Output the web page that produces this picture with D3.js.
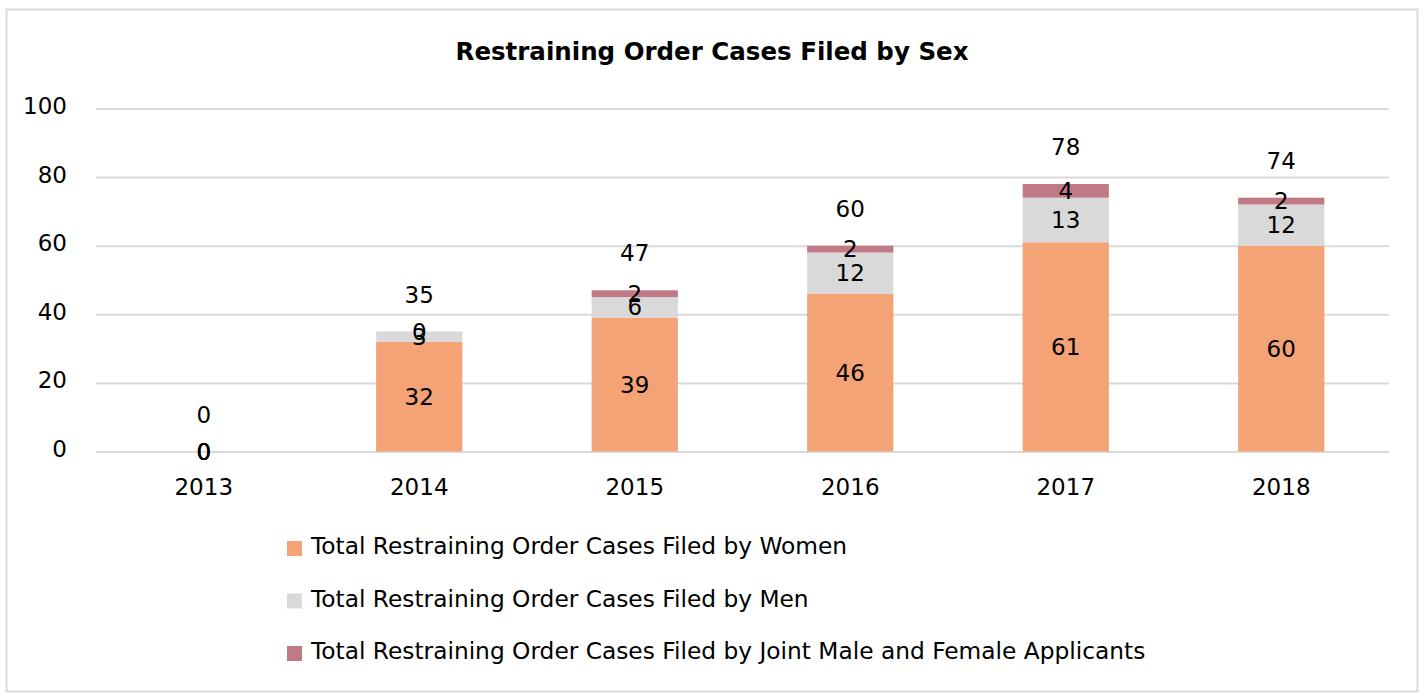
<!DOCTYPE html>
<html><head><meta charset="utf-8">
<script src="https://cdn.jsdelivr.net/npm/d3@7"></script>
<style>body{margin:0;background:#fff}svg{display:block}text{font-family:"DejaVu Sans",sans-serif}</style>
</head><body>
<svg id="c" width="1424" height="696"></svg>
<script>
const years = ["2013","2014","2015","2016","2017","2018"];
const women = [0,32,39,46,61,60];
const men = [0,3,6,12,13,12];
const joint = [0,0,2,2,4,2];
const totals = [0,35,47,60,78,74];
const yTicks = [0,20,40,60,80,100];
const seriesNames = ["Total Restraining Order Cases Filed by Women","Total Restraining Order Cases Filed by Men","Total Restraining Order Cases Filed by Joint Male and Female Applicants"];
const colors = ["#F3A375","#D9D9D9","#C07A86"];

const svg = d3.select("#c");
svg.append("rect").attr("x",6.5).attr("y",9.5).attr("width",1411).attr("height",682).attr("fill","#fff").attr("stroke","#d9d9d9").attr("stroke-width",2);
svg.append("text").attr("x",712).attr("y",60).attr("text-anchor","middle").attr("font-size",24.5).attr("font-weight","bold").text("Restraining Order Cases Filed by Sex");

const x = d3.scaleBand().domain(years).range([96,1389]).paddingInner(0.6).paddingOuter(0.3);
const y = d3.scaleLinear().domain([0,100]).range([451.5,108.5]);

const yAxis = d3.axisLeft(y).tickValues(yTicks).tickSize(-(1389-96)).tickPadding(29);
const gy = svg.append("g").attr("transform","translate(96,0)").call(yAxis);
gy.select(".domain").remove();
gy.selectAll(".tick line").attr("stroke","#d9d9d9").attr("stroke-width",2);
gy.selectAll(".tick text").attr("font-size",23).attr("fill","#000").attr("dy","0.22em");

const xAxis = d3.axisBottom(x).tickSize(0).tickPadding(27);
const gx = svg.append("g").attr("transform","translate(0,451.5)").call(xAxis);
gx.select(".domain").remove();
gx.selectAll(".tick text").attr("font-size",23).attr("fill","#000");

const data = years.map((yr,i)=>({year:yr,women:women[i],men:men[i],joint:joint[i]}));
const keys = ["women","men","joint"];
const stack = d3.stack().keys(keys)(data);
stack.forEach((s,k)=>{
  svg.append("g").selectAll("rect").data(s).join("rect")
    .attr("x",d=>x(d.data.year)).attr("width",x.bandwidth())
    .attr("y",d=>y(d[1])).attr("height",d=>y(d[0])-y(d[1]))
    .attr("fill",colors[k]);
});
stack.forEach((s,k)=>{
  svg.append("g").selectAll("text").data(s).join("text")
    .attr("x",d=>x(d.data.year)+x.bandwidth()/2)
    .attr("y",d=>y((d[0]+d[1])/2)).attr("dy","0.35em")
    .attr("text-anchor","middle").attr("font-size",23).attr("fill","#000")
    .text(d=>d[1]-d[0]);
});
svg.append("g").selectAll("text").data(years).join("text")
  .attr("x",d=>x(d)+x.bandwidth()/2)
  .attr("y",(d,i)=>y(totals[i])-37).attr("dy","0.35em")
  .attr("text-anchor","middle").attr("font-size",23).attr("fill","#000")
  .text((d,i)=>totals[i]);

const lg = svg.append("g");
seriesNames.forEach((n,i)=>{
  const yy = 546 + i*52.5;
  lg.append("rect").attr("x",287).attr("y",yy-5).attr("width",15).attr("height",15).attr("fill",colors[i]);
  lg.append("text").attr("x",311).attr("y",yy).attr("dy","0.35em").attr("font-size",23.3).attr("fill","#000").text(n);
});
</script>
</body></html>
